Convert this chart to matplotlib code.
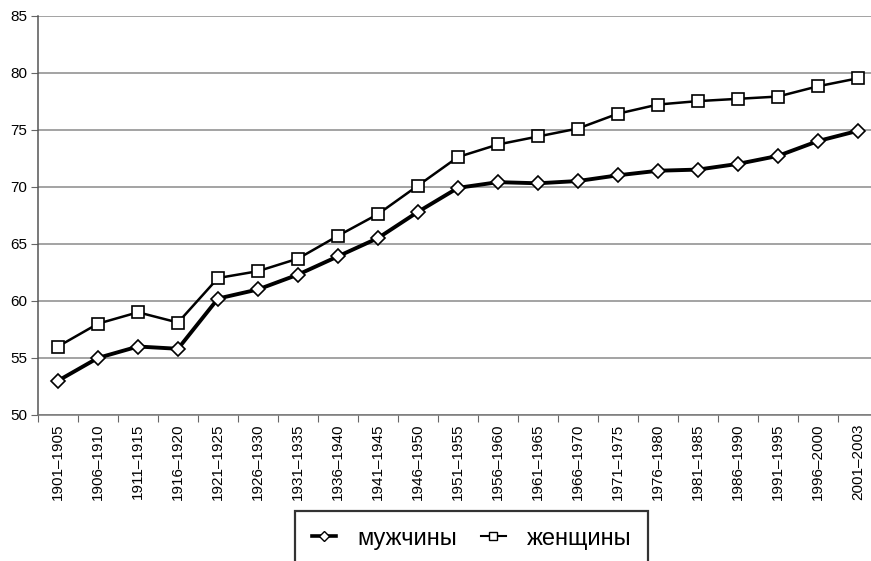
import matplotlib
matplotlib.use("Agg")
import matplotlib.pyplot as plt
from matplotlib.lines import Line2D

plt.rcParams['font.family'] = ['Liberation Sans', 'DejaVu Sans']

periods = ["1901–1905", "1906–1910", "1911–1915", "1916–1920", "1921–1925",
           "1926–1930", "1931–1935", "1936–1940", "1941–1945", "1946–1950",
           "1951–1955", "1956–1960", "1961–1965", "1966–1970", "1971–1975",
           "1976–1980", "1981–1985", "1986–1990", "1991–1995", "1996–2000",
           "2001–2003"]
men = [53.0, 55.0, 56.0, 55.8, 60.2, 61.0, 62.3, 63.9, 65.5, 67.8,
       69.9, 70.4, 70.3, 70.5, 71.0, 71.4, 71.5, 72.0, 72.7, 74.0, 74.9]
women = [56.0, 58.0, 59.0, 58.1, 62.0, 62.6, 63.7, 65.7, 67.6, 70.1,
         72.6, 73.7, 74.4, 75.1, 76.4, 77.2, 77.5, 77.7, 77.9, 78.8, 79.5]
labels = ["мужчины", "женщины"]
yticks = [50, 55, 60, 65, 70, 75, 80, 85]

W, H = 871, 561
fig = plt.figure(figsize=(W / 100, H / 100), dpi=100)
left, right, top, bottom = 38, 878, 15.5, 415
ax = fig.add_axes([left / W, 1 - bottom / H, (right - left) / W, (bottom - top) / H])

x = list(range(len(periods)))
ax.plot(x, men, color='black', lw=2.8, marker='D', markersize=7.5,
        markerfacecolor='white', markeredgecolor='black', markeredgewidth=1.2, zorder=3)
ax.plot(x, women, color='black', lw=1.8, marker='s', markersize=9,
        markerfacecolor='white', markeredgecolor='black', markeredgewidth=1.2, zorder=3)

ax.set_ylim(50, 85)
ax.set_yticks(yticks)
ax.set_xlim(-0.5, len(periods) - 0.5)
ax.yaxis.grid(True, color='#8a8a8a', lw=1.1)
ax.set_axisbelow(True)

ax.set_xticks([i - 0.5 for i in range(len(periods) + 1)], minor=False)
ax.set_xticklabels([])
ax.set_xticks(x, minor=True)
ax.set_xticklabels(periods, minor=True, rotation=90, fontsize=11)
ax.tick_params(axis='x', which='minor', length=0, pad=6)
ax.tick_params(axis='x', which='major', length=5, color='#666666', direction='out')
ax.tick_params(axis='y', length=5, color='#666666', labelsize=11, pad=3)

for s in ['top', 'right']:
    ax.spines[s].set_visible(False)
ax.spines['left'].set_color('#555555')
ax.spines['bottom'].set_color('#777777')
ax.spines['left'].set_linewidth(1.1)
ax.spines['bottom'].set_linewidth(1.1)

handles = [
    Line2D([], [], color='black', lw=2.6, marker='D', markersize=5,
           markerfacecolor='white', markeredgecolor='black'),
    Line2D([], [], color='black', lw=1.5, marker='s', markersize=6,
           markerfacecolor='white', markeredgecolor='black'),
]
leg = fig.legend(handles, labels, loc='upper left',
                 bbox_to_anchor=(295 / W, 1 - 511 / H), ncol=2,
                 frameon=True, fancybox=False, edgecolor='black',
                 fontsize=17, handlelength=1.05, handletextpad=0.9,
                 columnspacing=1.0, borderpad=0.7, borderaxespad=0)
leg.get_frame().set_linewidth(1.6)

fig.savefig("out.png", dpi=100)
